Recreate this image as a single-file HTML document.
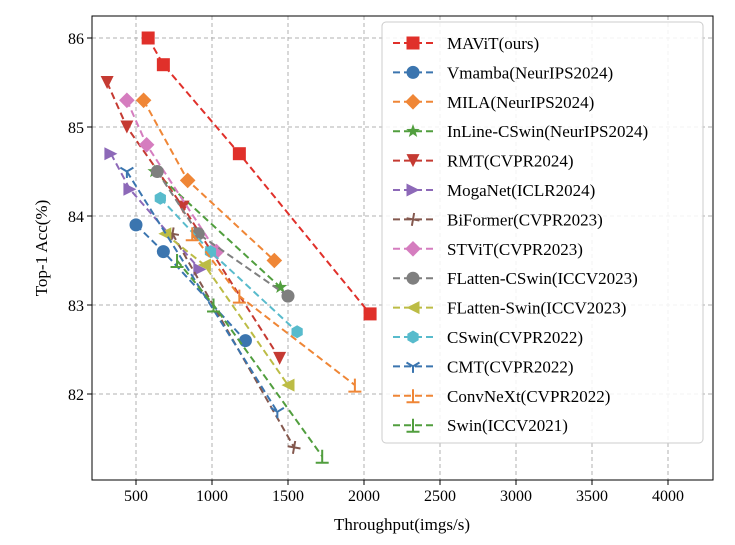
<!DOCTYPE html>
<html><head><meta charset="utf-8"><style>
body{margin:0;background:#fff;}
svg text{font-family:"Liberation Serif",serif;}
</style></head><body>
<svg id="c" width="735" height="540"></svg>
<script>
const seriesNames=["MAViT(ours)","Vmamba(NeurIPS2024)","MILA(NeurIPS2024)","InLine-CSwin(NeurIPS2024)","RMT(CVPR2024)","MogaNet(ICLR2024)","BiFormer(CVPR2023)","STViT(CVPR2023)","FLatten-CSwin(ICCV2023)","FLatten-Swin(ICCV2023)","CSwin(CVPR2022)","CMT(CVPR2022)","ConvNeXt(CVPR2022)","Swin(ICCV2021)"];
const seriesX=[[580,680,1180,2040],[500,680,1220],[550,840,1410],[620,1450],[310,440,810,1445],[335,460,920],[740,1540],[440,570,1030],[640,910,1500],[690,950,1500],[660,990,1560],[440,1430],[870,1180,1940],[770,1010,1725]];
const seriesY=[[86.0,85.7,84.7,82.9],[83.9,83.6,82.6],[85.3,84.4,83.5],[84.5,83.2],[85.5,85.0,84.1,82.4],[84.7,84.3,83.4],[83.8,81.4],[85.3,84.8,83.6],[84.5,83.8,83.1],[83.8,83.45,82.1],[84.2,83.6,82.7],[84.5,81.8],[83.8,83.1,82.1],[83.5,83.0,81.3]];
const xTicks=[500,1000,1500,2000,2500,3000,3500,4000];
const yTicks=[82,83,84,85,86];
const colors=["#e0302a","#3b75af","#ef8636","#519e3e","#c53a32","#8d69b8","#84584e","#d57dbf","#7f7f7f","#bcbc45","#58bbcc","#3b75af","#ef8636","#519e3e"];
const markers=["s","o","D","*","v",">","x","D","o","<","h","Y","|","|"];
const L=92,R=713,T=16,B=480;
const X=v=>60+v*0.152, Y=v=>38+(86-v)*89;
const svg=document.getElementById('c');const NS="http://www.w3.org/2000/svg";
function mk(t,a,p){const e=document.createElementNS(NS,t);for(const k in a)e.setAttribute(k,a[k]);(p||svg).appendChild(e);return e;}
// grid
xTicks.forEach(v=>{const g=mk('line',{x1:X(v),x2:X(v),y1:T,y2:B,stroke:'#b0b0b0','stroke-dasharray':'4,3'});


const t=mk('text',{x:X(v),y:B+21,'text-anchor':'middle','font-size':16});t.textContent=v;


mk('line',{x1:X(v),x2:X(v),y1:B,y2:B+5,stroke:'#000'});});
yTicks.forEach(v=>{const g=mk('line',{x1:L,x2:R,y1:Y(v),y2:Y(v),stroke:'#b0b0b0','stroke-dasharray':'4,3'});


const t=mk('text',{x:L-8,y:Y(v)+6,'text-anchor':'end','font-size':16});t.textContent=v;


mk('line',{x1:L-5,x2:L,y1:Y(v),y2:Y(v),stroke:'#000'});});
function marker(m,x,y,c,g){const s=6.5;
 if(m==='s')return mk('rect',{x:x-s,y:y-s,width:2*s,height:2*s,fill:c},g);
 if(m==='o')return mk('circle',{cx:x,cy:y,r:s,fill:c},g);
 if(m==='h')return mk('polygon',{points:[0,1,2,3,4,5].map(i=>{const a=Math.PI/3*i+Math.PI/6;return (x+s*Math.cos(a))+','+(y+s*Math.sin(a));}).join(' '),fill:c},g);
 if(m==='D')return mk('polygon',{points:`${x},${y-s*1.2} ${x+s*1.2},${y} ${x},${y+s*1.2} ${x-s*1.2},${y}`,fill:c},g);
 if(m==='v')return mk('polygon',{points:`${x-s},${y-s} ${x+s},${y-s} ${x},${y+s}`,fill:c},g);
 if(m==='>')return mk('polygon',{points:`${x-s},${y-s} ${x+s},${y} ${x-s},${y+s}`,fill:c},g);
 if(m==='<')return mk('polygon',{points:`${x+s},${y-s} ${x-s},${y} ${x+s},${y+s}`,fill:c},g);
 if(m==='*'){let p=[];for(let i=0;i<10;i++){const a=-Math.PI/2+i*Math.PI/5,r=i%2?s*0.45:s*1.1;p.push((x+r*Math.cos(a))+','+(y+r*Math.sin(a)));}return mk('polygon',{points:p.join(' '),fill:c},g);}
 if(m==='x')return mk('path',{d:`M${x-s} ${y}H${x+s}M${x} ${y-s}V${y+s}`,stroke:c,'stroke-width':2,transform:`rotate(10 ${x} ${y})`},g);
 if(m==='Y')return mk('path',{d:`M${x} ${y}V${y+s}M${x} ${y}L${x-s} ${y-s*0.6}M${x} ${y}L${x+s} ${y-s*0.6}`,stroke:c,'stroke-width':2,fill:'none'},g);
 return mk('path',{d:`M${x} ${y-s}V${y+s}M${x-s} ${y+s}H${x+s}`,stroke:c,'stroke-width':2},g);}
seriesNames.forEach((n,i)=>{const g=mk('g',{});
 
 
 const pts=seriesX[i].map((v,j)=>X(v)+','+Y(seriesY[i][j])).join(' ');
 mk('polyline',{points:pts,fill:'none',stroke:colors[i],'stroke-width':2,'stroke-dasharray':'7,4'},g);
 seriesX[i].forEach((v,j)=>{const m=marker(markers[i],X(v),Y(seriesY[i][j]),colors[i],g);
  
  });});
// frame
const fr=mk('rect',{x:L,y:T,width:R-L,height:B-T,fill:'none',stroke:'#000','stroke-width':1});


// legend
const lg=mk('g',{});


mk('rect',{x:382,y:22,width:321,height:421,rx:4,fill:'#fff','fill-opacity':0.85,stroke:'#ccc'},lg);
seriesNames.forEach((n,i)=>{const y=43+i*29.4;const e=mk('g',{},lg);
 
 
 mk('line',{x1:393,x2:433,y1:y,y2:y,stroke:colors[i],'stroke-width':2,'stroke-dasharray':'7,4'},e);
 marker(markers[i],413,y,colors[i],e);
 const t=mk('text',{x:447,y:y+6,'font-size':17},e);t.textContent=n;});
const xl=mk('text',{x:402,y:530,'text-anchor':'middle','font-size':17});xl.textContent='Throughput(imgs/s)';


const yl=mk('text',{x:0,y:0,'text-anchor':'middle','font-size':17,transform:'translate(47,248) rotate(-90)'});yl.textContent='Top-1 Acc(%)';


</script>
</body></html>
